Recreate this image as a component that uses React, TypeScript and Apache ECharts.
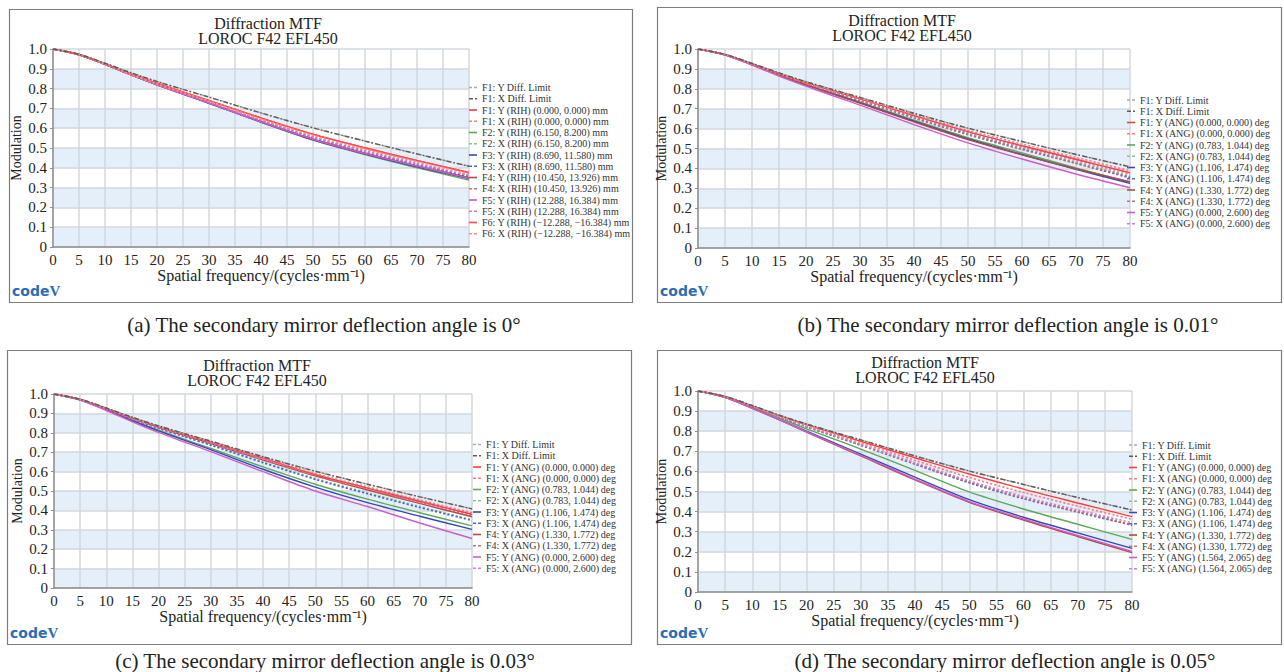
import { useEffect, useRef } from "react";
import * as echarts from "echarts";

// ---------- data ----------
const FREQ = [0, 5, 10, 15, 20, 25, 30, 40, 50, 60, 70, 80];
const DIFF_LIMIT = [1.0, 0.973, 0.928, 0.88, 0.836, 0.796, 0.757, 0.677, 0.602, 0.535, 0.47, 0.408];

const A_NAMES = [
  "F1: Y Diff. Limit",
  "F1: X Diff. Limit",
  "F1: Y (RIH) (0.000, 0.000) mm",
  "F1: X (RIH) (0.000, 0.000) mm",
  "F2: Y (RIH) (6.150, 8.200) mm",
  "F2: X (RIH) (6.150, 8.200) mm",
  "F3: Y (RIH) (8.690, 11.580) mm",
  "F3: X (RIH) (8.690, 11.580) mm",
  "F4: Y (RIH) (10.450, 13.926) mm",
  "F4: X (RIH) (10.450, 13.926) mm",
  "F5: Y (RIH) (12.288, 16.384) mm",
  "F5: X (RIH) (12.288, 16.384) mm",
  "F6: Y (RIH) (\u221212.288, \u221216.384) mm",
  "F6: X (RIH) (\u221212.288, \u221216.384) mm",
];
const A_F1Y = [1, 0.972, 0.925, 0.874, 0.827, 0.783, 0.74, 0.652, 0.57, 0.501, 0.437, 0.377];
const A_F1X = [1, 0.972, 0.924, 0.873, 0.825, 0.781, 0.738, 0.649, 0.566, 0.497, 0.433, 0.373];
const A_F2Y = [1, 0.971, 0.922, 0.869, 0.819, 0.772, 0.726, 0.63, 0.54, 0.467, 0.4, 0.338];
const A_F2X = [1, 0.971, 0.923, 0.87, 0.82, 0.774, 0.729, 0.636, 0.548, 0.476, 0.412, 0.352];
const A_F3Y = [1, 0.971, 0.922, 0.869, 0.819, 0.772, 0.726, 0.631, 0.541, 0.469, 0.405, 0.345];
const A_F3X = [1, 0.971, 0.923, 0.87, 0.821, 0.775, 0.73, 0.637, 0.55, 0.479, 0.415, 0.356];
const A_F4Y = [1, 0.971, 0.922, 0.869, 0.82, 0.773, 0.728, 0.634, 0.546, 0.474, 0.41, 0.35];
const A_F4X = [1, 0.971, 0.923, 0.871, 0.822, 0.777, 0.733, 0.642, 0.556, 0.485, 0.42, 0.36];
const A_F5Y = [1, 0.971, 0.922, 0.869, 0.819, 0.772, 0.727, 0.632, 0.544, 0.472, 0.409, 0.348];
const A_F5X = [1, 0.971, 0.923, 0.871, 0.822, 0.777, 0.732, 0.64, 0.554, 0.484, 0.421, 0.362];
const A_F6Y = [1, 0.972, 0.925, 0.874, 0.826, 0.782, 0.739, 0.651, 0.569, 0.5, 0.436, 0.376];
const A_F6X = [1, 0.972, 0.924, 0.872, 0.824, 0.78, 0.737, 0.647, 0.564, 0.495, 0.431, 0.371];

const BC_NAMES = [
  "F1: Y Diff. Limit",
  "F1: X Diff. Limit",
  "F1: Y (ANG) (0.000, 0.000) deg",
  "F1: X (ANG) (0.000, 0.000) deg",
  "F2: Y (ANG) (0.783, 1.044) deg",
  "F2: X (ANG) (0.783, 1.044) deg",
  "F3: Y (ANG) (1.106, 1.474) deg",
  "F3: X (ANG) (1.106, 1.474) deg",
  "F4: Y (ANG) (1.330, 1.772) deg",
  "F4: X (ANG) (1.330, 1.772) deg",
  "F5: Y (ANG) (0.000, 2.600) deg",
  "F5: X (ANG) (0.000, 2.600) deg",
];
const B_F1Y = [1, 0.972, 0.926, 0.877, 0.831, 0.79, 0.75, 0.666, 0.585, 0.514, 0.446, 0.378];
const B_F1X = [1, 0.972, 0.926, 0.877, 0.832, 0.791, 0.752, 0.67, 0.591, 0.522, 0.455, 0.388];
const B_F2Y = [1, 0.971, 0.922, 0.87, 0.822, 0.777, 0.733, 0.642, 0.554, 0.478, 0.402, 0.33];
const B_F2X = [1, 0.972, 0.924, 0.874, 0.828, 0.785, 0.744, 0.658, 0.575, 0.503, 0.432, 0.362];
const B_F3Y = [1, 0.971, 0.922, 0.869, 0.82, 0.775, 0.73, 0.637, 0.548, 0.47, 0.395, 0.325];
const B_F3X = [1, 0.972, 0.924, 0.873, 0.826, 0.783, 0.741, 0.654, 0.57, 0.497, 0.425, 0.352];
const B_F4Y = [1, 0.971, 0.921, 0.868, 0.819, 0.773, 0.728, 0.634, 0.545, 0.468, 0.398, 0.333];
const B_F4X = [1, 0.972, 0.924, 0.873, 0.826, 0.782, 0.74, 0.653, 0.569, 0.495, 0.426, 0.358];
const B_F5Y = [1, 0.97, 0.919, 0.864, 0.813, 0.765, 0.718, 0.62, 0.528, 0.447, 0.372, 0.303];
const B_F5X = [1, 0.972, 0.925, 0.875, 0.829, 0.787, 0.746, 0.662, 0.58, 0.508, 0.44, 0.372];

const C_F1Y = [1, 0.972, 0.926, 0.877, 0.832, 0.791, 0.752, 0.67, 0.585, 0.515, 0.447, 0.38];
const C_F1X = [1, 0.972, 0.926, 0.878, 0.833, 0.793, 0.754, 0.673, 0.59, 0.521, 0.454, 0.388];
const C_F2Y = [1, 0.97, 0.919, 0.864, 0.813, 0.766, 0.72, 0.624, 0.535, 0.458, 0.388, 0.32];
const C_F2X = [1, 0.971, 0.923, 0.872, 0.825, 0.781, 0.739, 0.65, 0.565, 0.491, 0.42, 0.352];
const C_F3Y = [1, 0.97, 0.918, 0.862, 0.81, 0.761, 0.713, 0.612, 0.52, 0.44, 0.37, 0.302];
const C_F3X = [1, 0.971, 0.923, 0.871, 0.823, 0.779, 0.736, 0.646, 0.56, 0.486, 0.415, 0.348];
const C_F4Y = [1, 0.971, 0.924, 0.874, 0.828, 0.786, 0.745, 0.66, 0.578, 0.505, 0.436, 0.367];
const C_F4X = [1, 0.972, 0.925, 0.875, 0.829, 0.787, 0.746, 0.662, 0.58, 0.508, 0.44, 0.372];
const C_F5Y = [1, 0.969, 0.915, 0.857, 0.802, 0.752, 0.703, 0.6, 0.5, 0.42, 0.335, 0.255];
const C_F5X = [1, 0.972, 0.925, 0.876, 0.83, 0.789, 0.749, 0.665, 0.584, 0.513, 0.446, 0.378];

const D_NAMES = [
  "F1: Y Diff. Limit",
  "F1: X Diff. Limit",
  "F1: Y (ANG) (0.000, 0.000) deg",
  "F1: X (ANG) (0.000, 0.000) deg",
  "F2: Y (ANG) (0.783, 1.044) deg",
  "F2: X (ANG) (0.783, 1.044) deg",
  "F3: Y (ANG) (1.106, 1.474) deg",
  "F3: X (ANG) (1.106, 1.474) deg",
  "F4: Y (ANG) (1.330, 1.772) deg",
  "F4: X (ANG) (1.330, 1.772) deg",
  "F5: Y (ANG) (1.564, 2.065) deg",
  "F5: X (ANG) (1.564, 2.065) deg",
];
const D_F1Y = [1, 0.972, 0.926, 0.877, 0.833, 0.791, 0.75, 0.668, 0.587, 0.512, 0.443, 0.375];
const D_F1X = [1, 0.972, 0.925, 0.876, 0.83, 0.786, 0.743, 0.655, 0.57, 0.495, 0.427, 0.362];
const D_F2Y = [1, 0.97, 0.92, 0.865, 0.812, 0.762, 0.711, 0.605, 0.498, 0.413, 0.337, 0.262];
const D_F2X = [1, 0.971, 0.923, 0.871, 0.822, 0.776, 0.731, 0.637, 0.545, 0.466, 0.398, 0.333];
const D_F3Y = [1, 0.969, 0.915, 0.858, 0.8, 0.743, 0.686, 0.571, 0.46, 0.372, 0.294, 0.217];
const D_F3X = [1, 0.971, 0.923, 0.871, 0.822, 0.776, 0.73, 0.636, 0.543, 0.464, 0.397, 0.332];
const D_F4Y = [1, 0.969, 0.914, 0.856, 0.796, 0.736, 0.677, 0.558, 0.446, 0.358, 0.276, 0.196];
const D_F4X = [1, 0.971, 0.923, 0.871, 0.822, 0.777, 0.732, 0.638, 0.547, 0.468, 0.4, 0.335];
const D_F5Y = [1, 0.969, 0.914, 0.857, 0.797, 0.738, 0.68, 0.562, 0.45, 0.363, 0.281, 0.202];
const D_F5X = [1, 0.971, 0.924, 0.872, 0.824, 0.779, 0.735, 0.643, 0.553, 0.475, 0.408, 0.345];

const TITLE_LINES = ["Diffraction MTF", "LOROC F42 EFL450"];
const X_NAME = "Spatial frequency/(cycles\u00b7mm\u207b\u00b9)";
const Y_NAME = "Modulation";
const CAPTIONS = [
  "(a) The secondary mirror deflection angle is 0\u00b0",
  "(b) The secondary mirror deflection angle is 0.01\u00b0",
  "(c) The secondary mirror deflection angle is 0.03\u00b0",
  "(d) The secondary mirror deflection angle is 0.05\u00b0",
];

const PANEL_VALUES = [
  [DIFF_LIMIT, DIFF_LIMIT, A_F1Y, A_F1X, A_F2Y, A_F2X, A_F3Y, A_F3X, A_F4Y, A_F4X, A_F5Y, A_F5X, A_F6Y, A_F6X],
  [DIFF_LIMIT, DIFF_LIMIT, B_F1Y, B_F1X, B_F2Y, B_F2X, B_F3Y, B_F3X, B_F4Y, B_F4X, B_F5Y, B_F5X],
  [DIFF_LIMIT, DIFF_LIMIT, C_F1Y, C_F1X, C_F2Y, C_F2X, C_F3Y, C_F3X, C_F4Y, C_F4X, C_F5Y, C_F5X],
  [DIFF_LIMIT, DIFF_LIMIT, D_F1Y, D_F1X, D_F2Y, D_F2X, D_F3Y, D_F3X, D_F4Y, D_F4X, D_F5Y, D_F5X],
];
const PANEL_NAMES = [A_NAMES, BC_NAMES, BC_NAMES, D_NAMES];

// ---------- styles / layout ----------
const SERIF = "Liberation Serif, serif";
const SANS = "DejaVu Sans, sans-serif";
const DOT = [2.2, 2];
const ICON_SOLID = "path://M0,0h8v1.6h-8z";
const ICON_DOT = "path://M0,0h3v1.6h-3zM5,0h3v1.6h-3z";
const ICON_DASHDOT = "path://M0,0h4v1.6h-4zM6,0h2v1.6h-2z";
const STYLES: any[] = [
  { color: "#a9a9a9", type: DOT, width: 1.5, z: 4, icon: ICON_DOT },
  { color: "#5a5a5a", type: [5, 2, 1.5, 2], width: 1.4, z: 5, icon: ICON_DASHDOT },
  { color: "#ff3b3b", type: "solid", width: 1.4, z: 3, icon: ICON_SOLID },
  { color: "#ff7b7b", type: DOT, width: 1.6, z: 3, icon: ICON_DOT },
  { color: "#5aa95a", type: "solid", width: 1.4, z: 2, icon: ICON_SOLID },
  { color: "#86c886", type: DOT, width: 1.6, z: 2, icon: ICON_DOT },
  { color: "#3a46b8", type: "solid", width: 1.4, z: 2, icon: ICON_SOLID },
  { color: "#4a64d8", type: DOT, width: 1.6, z: 2, icon: ICON_DOT },
  { color: "#b04a4a", type: "solid", width: 1.4, z: 2, icon: ICON_SOLID },
  { color: "#c86e6e", type: DOT, width: 1.6, z: 2, icon: ICON_DOT },
  { color: "#cc5ccc", type: "solid", width: 1.4, z: 2, icon: ICON_SOLID },
  { color: "#d27ad8", type: DOT, width: 1.6, z: 2, icon: ICON_DOT },
  { color: "#ff4a4a", type: "solid", width: 1.4, z: 3, icon: ICON_SOLID },
  { color: "#ff8a8a", type: DOT, width: 1.6, z: 3, icon: ICON_DOT },
];

const LAYOUT = [
  { box: [9, 9, 623, 293], grid: { left: 53, top: 49, width: 416, height: 198 }, title: [268, 23], legend: [469, 82], caption: [324, 325] },
  { box: [657, 7, 624, 295], grid: { left: 698, top: 49, width: 432, height: 199 }, title: [902, 20], legend: [1127, 94.5], caption: [1008, 325] },
  { box: [7, 350, 624, 294], grid: { left: 54, top: 394, width: 418, height: 194 }, title: [257, 365], legend: [473, 439], caption: [325, 661] },
  { box: [657, 350, 624, 294], grid: { left: 698, top: 391, width: 434, height: 201 }, title: [925, 362], legend: [1129, 439.5], caption: [1005, 661] },
];

function buildOption() {
  const grid: any[] = [];
  const xAxis: any[] = [];
  const yAxis: any[] = [];
  const legend: any[] = [];
  const series: any[] = [];
  const graphic: any[] = [];

  LAYOUT.forEach((L, i) => {
    grid.push({ ...L.grid, containLabel: false, outerBoundsMode: "none" });
    xAxis.push({
      gridIndex: i,
      type: "value",
      min: 0,
      max: 80,
      interval: 5,
      name: X_NAME,
      nameLocation: "middle",
      nameGap: 18,
      nameTextStyle: { fontFamily: SERIF, fontSize: 16, color: "#222" },
      axisLine: { show: true, lineStyle: { color: "#8f8f8f", width: 1.5 } },
      axisTick: { show: false },
      axisLabel: { fontFamily: SERIF, fontSize: 15, color: "#222", margin: 5 },
      splitLine: { show: true, lineStyle: { color: "#d3d7dc", width: 1.5 } },
    });
    yAxis.push({
      gridIndex: i,
      type: "value",
      min: 0,
      max: 1,
      interval: 0.1,
      name: Y_NAME,
      nameLocation: "middle",
      nameRotate: 90,
      nameGap: 30,
      nameTextStyle: { fontFamily: SERIF, fontSize: 14, color: "#222" },
      axisLine: { show: true, lineStyle: { color: "#8f8f8f", width: 1.5 } },
      axisTick: { show: true, length: 3, lineStyle: { color: "#8f8f8f" } },
      axisLabel: {
        fontFamily: SERIF,
        fontSize: 15,
        color: "#222",
        margin: 6,
        formatter: (v: number) => (v === 0 ? "0" : v.toFixed(1)),
      },
      splitLine: { show: true, lineStyle: { color: "#d3d7dc", width: 1.5 } },
      splitArea: { show: true, areaStyle: { color: ["#e4eff9", "#ffffff"] } },
    });
    const names = PANEL_NAMES[i];
    legend.push({
      orient: "vertical",
      left: L.legend[0],
      top: L.legend[1],
      padding: 0,
      itemWidth: 8,
      itemHeight: 11,
      itemGap: 0.25,
      selectedMode: false,
      symbolKeepAspect: true,
      data: names.map((name, k) => ({ name, icon: STYLES[k].icon })),
      textStyle: { fontFamily: SERIF, fontSize: 10, color: "#333", lineHeight: 11 },
    });
    names.forEach((name, k) => {
      const st = STYLES[k];
      const vals = PANEL_VALUES[i][k];
      series.push({
        type: "line",
        name,
        xAxisIndex: i,
        yAxisIndex: i,
        data: FREQ.map((f, j) => [f, vals[j]]),
        smooth: 0.3,
        symbol: "none",
        showSymbol: false,
        silent: true,
        z: st.z,
        lineStyle: { color: st.color, type: st.type, width: st.width },
        itemStyle: { color: st.color },
        emphasis: { disabled: true },
      });
    });

    // frame
    graphic.push({
      type: "rect",
      shape: { x: L.box[0] + 0.5, y: L.box[1] + 0.5, width: L.box[2], height: L.box[3] },
      style: { fill: "none", stroke: "#7d7d7d", lineWidth: 1.2 },
      silent: true,
      z: -1,
    });
    // titles
    TITLE_LINES.forEach((t, j) => {
      graphic.push({
        type: "text",
        x: L.title[0],
        y: L.title[1] + j * 15.5,
        style: {
          text: t,
          font: `16px ${SERIF}`,
          fill: "#222",
          align: "center",
          verticalAlign: "middle",
          textAlign: "center",
          textVerticalAlign: "middle",
        },
        silent: true,
      });
    });
    // codeV logo
    graphic.push({
      type: "text",
      x: L.box[0] + 3,
      y: L.box[1] + L.box[3] - 11,
      style: {
        text: "{a|code}{b|V}",
        rich: {
          a: { font: `bold 14px ${SANS}`, fill: "#2a6db5" },
          b: { font: `bold 15px ${SERIF}`, fill: "#2a6db5" },
        },
        align: "left",
        verticalAlign: "middle",
        textAlign: "left",
        textVerticalAlign: "middle",
      },
      silent: true,
    });
    // caption
    graphic.push({
      type: "text",
      x: L.caption[0],
      y: L.caption[1],
      style: {
        text: CAPTIONS[i],
        font: `21px ${SERIF}`,
        fill: "#222",
        align: "center",
        verticalAlign: "middle",
        textAlign: "center",
        textVerticalAlign: "middle",
      },
      silent: true,
    });
  });

  return {
    animation: false,
    backgroundColor: "#ffffff",
    grid,
    xAxis,
    yAxis,
    legend,
    series,
    graphic,
  };
}

export default function App() {
  const ref = useRef<HTMLDivElement | null>(null);
  useEffect(() => {
    if (!ref.current) return;
    const chart = echarts.init(ref.current, undefined, { renderer: "svg" });
    chart.setOption(buildOption() as any);
    return () => chart.dispose();
  }, []);
  return (
    <div
      ref={ref}
      style={{ position: "absolute", left: 0, top: 0, width: 1284, height: 672, background: "#fff" }}
    />
  );
}
